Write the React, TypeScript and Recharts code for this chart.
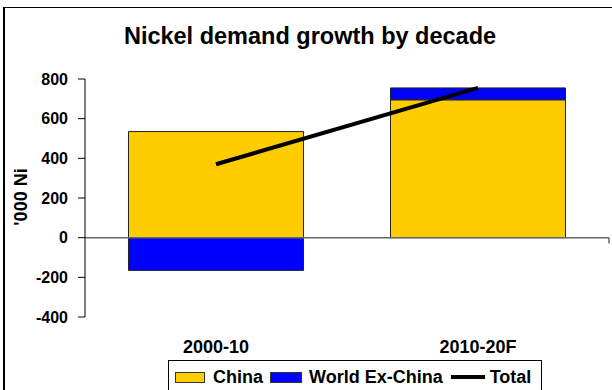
import React from "react";
import {
  ComposedChart,
  Bar,
  Line,
  XAxis,
  YAxis,
  ReferenceLine,
} from "recharts";

const categories = ["2000-10", "2010-20F"];
const chinaValues = [535, 695];
const worldExChinaValues = [-165, 60];
const totalValues = [370, 755];
const yTicks = [-400, -200, 0, 200, 400, 600, 800];

const data = categories.map((c, i) => ({
  decade: c,
  china: chinaValues[i],
  world: worldExChinaValues[i],
  total: totalValues[i],
}));

const FONT = "'Liberation Sans', Arial, sans-serif";

const XTick = (props: any) => {
  const { x, y, payload } = props;
  return (
    <text
      x={x}
      y={y}
      dy="0.71em"
      textAnchor="middle"
      fontFamily={FONT}
      fontWeight="bold"
      fontSize={18}
      fill="#000"
    >
      {payload.value}
    </text>
  );
};

const YTick = (props: any) => {
  const { x, y, payload } = props;
  return (
    <text
      x={x}
      y={y}
      dy="0.36em"
      textAnchor="end"
      fontFamily={FONT}
      fontWeight="bold"
      fontSize={16}
      fill="#000"
    >
      {payload.value}
    </text>
  );
};

const YLabel = () => (
  <text
    x={21}
    y={197}
    transform="rotate(-90 21 197)"
    textAnchor="middle"
    dominantBaseline="central"
    fontFamily={FONT}
    fontWeight="bold"
    fontSize={18}
    fill="#000"
  >
    '000 Ni
  </text>
);

export default function App() {
  return (
    <div
      style={{
        position: "absolute",
        left: 0,
        top: 0,
        width: 612,
        height: 390,
        overflow: "hidden",
        background: "#fff",
      }}
    >
      <div
        style={{
          position: "absolute",
          left: 3,
          top: 7,
          width: 640,
          height: 420,
          borderLeft: "2px solid #000",
          borderTop: "1.5px solid #000",
        }}
      />
      <div
        style={{
          position: "absolute",
          left: 0,
          top: 24,
          width: 620,
          textAlign: "center",
          fontFamily: FONT,
          fontWeight: "bold",
          fontSize: 23.5,
          lineHeight: "24px",
          color: "#000",
        }}
      >
        Nickel demand growth by decade
      </div>
      <div style={{ position: "absolute", left: 0, top: 0 }}>
        <ComposedChart
          width={612}
          height={390}
          data={data}
          stackOffset="sign"
          margin={{ top: 79, right: 3, bottom: 33, left: 25 }}
          barCategoryGap="16.6%"
        >
          <XAxis
            dataKey="decade"
            axisLine={false}
            tickLine={false}
            tickSize={6}
            tickMargin={17}
            height={40}
            tick={<XTick />}
          />
          <XAxis
            xAxisId="num"
            type="number"
            domain={[0, 2]}
            allowDataOverflow
            hide
          />
          <YAxis
            domain={[-400, 800]}
            ticks={yTicks}
            width={60}
            tickSize={7}
            tickMargin={10}
            axisLine={{ stroke: "#000", strokeWidth: 1 }}
            tickLine={{ stroke: "#000", strokeWidth: 1 }}
            tick={<YTick />}
            interval={0}
            label={<YLabel />}
          />
          <Bar
            dataKey="china"
            name="China"
            stackId="a"
            fill="#FFCC00"
            stroke="#222"
            strokeWidth={1}
            isAnimationActive={false}
          />
          <Bar
            dataKey="world"
            name="World Ex-China"
            stackId="a"
            fill="#0000FF"
            stroke="#222"
            strokeWidth={1}
            isAnimationActive={false}
          />
          <ReferenceLine y={0} stroke="#666" strokeWidth={1.5} />
          <ReferenceLine
            xAxisId="num"
            segment={[
              { x: 1, y: 0 },
              { x: 1, y: -30 },
            ]}
            stroke="#666"
            strokeWidth={1.5}
          />
          <ReferenceLine
            xAxisId="num"
            segment={[
              { x: 2, y: 0 },
              { x: 2, y: -30 },
            ]}
            stroke="#666"
            strokeWidth={1.5}
          />
          <Line
            dataKey="total"
            name="Total"
            type="linear"
            stroke="#000"
            strokeWidth={4}
            dot={false}
            activeDot={false}
            isAnimationActive={false}
          />
        </ComposedChart>
      </div>
      <div
        style={{
          position: "absolute",
          left: 168,
          top: 360,
          width: 374,
          height: 40,
          border: "1px solid #000",
          boxSizing: "border-box",
          fontFamily: FONT,
          fontWeight: "bold",
          fontSize: 18,
          lineHeight: "18px",
          color: "#000",
        }}
      >
        <div
          style={{
            display: "flex",
            alignItems: "center",
            paddingLeft: 6,
            marginTop: 7,
            whiteSpace: "nowrap",
          }}
        >
          <span
            style={{
              display: "inline-block",
              width: 30,
              height: 11,
              background: "#FFCC00",
              border: "1px solid #333",
              boxSizing: "border-box",
              marginRight: 8,
            }}
          />
          <span style={{ marginRight: 7 }}>China</span>
          <span
            style={{
              display: "inline-block",
              width: 32,
              height: 11,
              background: "#0000FF",
              border: "1px solid #333",
              boxSizing: "border-box",
              marginRight: 7,
            }}
          />
          <span style={{ marginRight: 8 }}>World Ex-China</span>
          <span
            style={{
              display: "inline-block",
              width: 34,
              height: 4,
              background: "#000",
              marginRight: 5,
            }}
          />
          <span>Total</span>
        </div>
      </div>
    </div>
  );
}
